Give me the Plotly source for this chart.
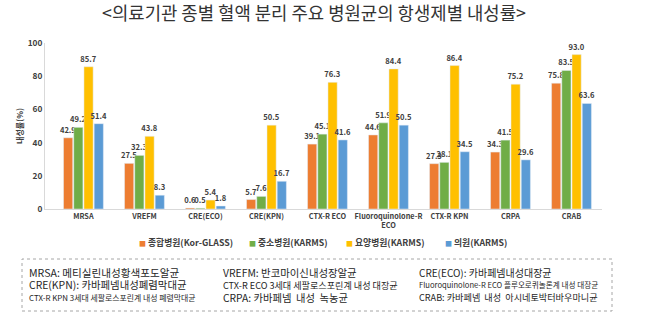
import plotly.graph_objects as go

categories = ["MRSA", "VREFM", "CRE(ECO)", "CRE(KPN)", "CTX-R ECO",
              "Fluoroquinolone-R<br>ECO", "CTX-R KPN", "CRPA", "CRAB"]
series_names = ["종합병원(Kor-GLASS)", "중소병원(KARMS)", "요양병원(KARMS)", "의원(KARMS)"]
general = [42.9, 27.5, 0.6, 5.7, 39.1, 44.6, 27.3, 34.3, 75.8]
small = [49.2, 32.3, 0.5, 7.6, 45.1, 51.9, 28.1, 41.5, 83.5]
nursing = [85.7, 43.8, 5.4, 50.5, 76.3, 84.4, 86.4, 75.2, 93.0]
clinic = [51.4, 8.3, 1.8, 16.7, 41.6, 50.5, 34.5, 29.6, 63.6]
y_ticks = [0, 20, 40, 60, 80, 100]
colors = ["#ED7D31", "#70AD47", "#FFC000", "#5B9BD5"]

notes = [
    ["MRSA: 메티실린내성황색포도알균", "VREFM: 반코마이신내성장알균", "CRE(ECO): 카바페넴내성대장균"],
    ["CRE(KPN): 카바페넴내성폐렴막대균", "CTX-R ECO 3세대 세팔로스포린계 내성 대장균", "Fluoroquinolone-R ECO 플루오로퀴놀론계 내성 대장균"],
    ["CTX-R KPN 3세대 세팔로스포린계 내성 폐렴막대균", "CRPA: 카바페넴  내성  녹농균", "CRAB: 카바페넴  내성  아시네토박터바우마니균"],
]
note_sizes = [[10.6, 10.4, 10], [10.4, 9.1, 7.6], [7.9, 10.3, 9.15]]

FONT = "Noto Sans CJK KR"

# pixel -> paper helpers (plot area: x 45..602, y 43..209)
def px(xp):
    return (xp - 45) / 557.0
def py(yp):
    return (209 - yp) / 166.0

fig = go.Figure()
for name, vals, col in zip(series_names, [general, small, nursing, clinic], colors):
    fig.add_trace(go.Bar(
        x=categories, y=vals, name=name, marker_color=col,
        text=[f"{v:.1f}" for v in vals], textposition="outside",
        textfont=dict(size=7.6, color="#404040", family=FONT, weight="bold"),
        cliponaxis=False, showlegend=False,
    ))

legend_ids = ["legend", "legend2", "legend3", "legend4"]
legend_marker_x = [142, 252, 349, 448]
for name, col, lid in zip(series_names, colors, legend_ids):
    fig.add_trace(go.Scatter(
        x=[None], y=[None], mode="markers", legend=lid,
        name=f"<span style='color:{col};font-size:7px'>■</span> {name}",
        marker=dict(symbol="square", size=1, color="rgba(0,0,0,0)"),
    ))

legend_common = dict(orientation="h", xanchor="left", y=py(243), yanchor="middle",
                     font=dict(size=8.8, family=FONT, weight="bold", color="#404040"),
                     itemwidth=30, bgcolor="rgba(0,0,0,0)", borderwidth=0)
legend_layout = {}
for lid, mx in zip(legend_ids, legend_marker_x):
    legend_layout[lid] = dict(x=px(mx - 43), **legend_common)

fig.update_layout(
    width=650, height=321,
    margin=dict(l=45, r=48, t=43, b=112),
    paper_bgcolor="white", plot_bgcolor="white",
    barmode="group", bargap=0.33, bargroupgap=0.1,
    uniformtext=dict(minsize=7.6, mode="show"),
    font=dict(family=FONT, color="#404040"),
    title=dict(text="<의료기관 종별 혈액 분리 주요 병원균의 항생제별 내성률>",
               x=314 / 650, xanchor="center", y=1 - 14 / 321, yanchor="middle",
               font=dict(size=17.8, color="#333333", family=FONT)),
    xaxis=dict(range=[-0.63, 8.5], showline=True, linecolor="#D9D9D9", linewidth=1,
               ticks="", tickangle=0,
               tickfont=dict(size=7.3, family=FONT, weight="bold", color="#404040"),
               showgrid=False, fixedrange=True),
    yaxis=dict(range=[0, 100], tickvals=y_ticks, showline=True, linecolor="#D9D9D9",
               showgrid=False, zeroline=False, ticks="",
               tickfont=dict(size=8.3, family=FONT, weight="bold", color="#404040"),
               title=dict(text="내성률(%)", standoff=2,
                          font=dict(size=8, family=FONT, weight="bold", color="#404040"))),
    **legend_layout,
)

fig.add_shape(type="rect", xref="paper", yref="paper",
              x0=px(22), x1=px(612), y0=py(311), y1=py(259),
              line=dict(color="#A6A6A6", width=1, dash="dot"))

col_x = [27, 221, 417]
row_y = [272, 284.5, 297]
for r, row in enumerate(notes):
    for c, txt in enumerate(row):
        fig.add_annotation(xref="paper", yref="paper", x=px(col_x[c]), y=py(row_y[r]),
                           xanchor="left", yanchor="middle", showarrow=False, text=txt,
                           font=dict(size=note_sizes[r][c], family=FONT, color="#262626"))

fig.write_html("out.html")
